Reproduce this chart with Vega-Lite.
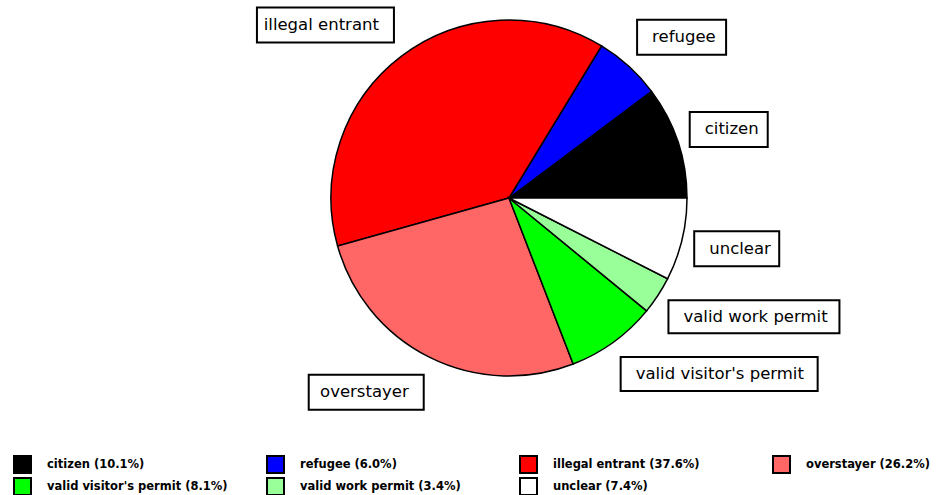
{
  "$schema": "https://vega.github.io/schema/vega-lite/v6.json",
  "width": 356,
  "height": 356,
  "autosize": {"type": "none"},
  "padding": {"left": 331, "top": 20, "right": 251, "bottom": 119},
  "background": "white",
  "config": {
    "view": {"stroke": null},
    "legend": {
      "orient": "none",
      "legendX": -318,
      "legendY": 435,
      "columns": 4,
      "direction": "horizontal",
      "symbolType": "square",
      "symbolSize": 289,
      "symbolStrokeColor": "black",
      "symbolStrokeWidth": 2,
      "symbolOpacity": 1,
      "labelFont": "DejaVu Sans",
      "labelFontWeight": "bold",
      "labelFontSize": 11.5,
      "labelColor": "black",
      "labelOffset": 15,
      "labelLimit": 300,
      "gridAlign": "all",
      "columnPadding": 35,
      "rowPadding": -4,
      "padding": 0
    }
  },
  "data": {
    "values": [
      {"ord": 1, "name": "citizen", "label": "citizen (10.1%)", "value": 10.1},
      {"ord": 2, "name": "refugee", "label": "refugee (6.0%)", "value": 6.0},
      {"ord": 3, "name": "illegal entrant", "label": "illegal entrant (37.6%)", "value": 37.6},
      {"ord": 4, "name": "overstayer", "label": "overstayer (26.2%)", "value": 26.2},
      {"ord": 5, "name": "valid visitor's permit", "label": "valid visitor's permit (8.1%)", "value": 8.1},
      {"ord": 6, "name": "valid work permit", "label": "valid work permit (3.4%)", "value": 3.4},
      {"ord": 7, "name": "unclear", "label": "unclear (7.4%)", "value": 7.4}
    ]
  },
  "transform": [
    {"window": [{"op": "sum", "field": "value", "as": "cum"}], "sort": [{"field": "ord"}], "frame": [null, 0]},
    {"joinaggregate": [{"op": "sum", "field": "value", "as": "total"}]},
    {"calculate": "2 * PI * (datum.cum - datum.value / 2) / datum.total", "as": "mid"},
    {"calculate": "1.07 * cos(datum.mid)", "as": "lx"},
    {"calculate": "1.22 * sin(datum.mid)", "as": "ly"}
  ],
  "layer": [
    {
      "mark": {"type": "arc", "stroke": "black", "strokeWidth": 1.5},
      "encoding": {
        "theta": {"field": "value", "type": "quantitative", "stack": true, "scale": {"range": [1.5708, -4.7124]}},
        "order": {"field": "ord", "type": "quantitative"},
        "color": {
          "field": "label",
          "type": "nominal",
          "title": null,
          "scale": {
            "domain": ["citizen (10.1%)", "refugee (6.0%)", "illegal entrant (37.6%)", "overstayer (26.2%)", "valid visitor's permit (8.1%)", "valid work permit (3.4%)", "unclear (7.4%)"],
            "range": ["#000000", "#0000ff", "#ff0000", "#ff6666", "#00ff00", "#99ff99", "#ffffff"]
          }
        }
      }
    },
    {
      "mark": {"type": "point", "filled": true, "fill": "white", "stroke": "black", "strokeWidth": 2, "opacity": 1, "size": 4},
      "encoding": {
        "x": {"field": "lx", "type": "quantitative", "scale": {"domain": [-1, 1], "nice": false, "zero": false}, "axis": null},
        "y": {"field": "ly", "type": "quantitative", "scale": {"domain": [-1, 1], "nice": false, "zero": false}, "axis": null},
        "shape": {
          "field": "name",
          "type": "nominal",
          "legend": null,
          "scale": {
            "domain": ["citizen", "refugee", "illegal entrant", "overstayer", "valid visitor's permit", "valid work permit", "unclear"],
            "range": ["M0,-17.5H78V17.5H0Z", "M0,-17.5H89V17.5H0Z", "M-137,-17.5H0V17.5H-137Z", "M-115,-17.5H0V17.5H-115Z", "M0,-17H197V17H0Z", "M0,-16.5H171V16.5H0Z", "M0,-17.5H85V17.5H0Z"]
          }
        }
      }
    },
    {
      "transform": [{"filter": "datum.lx > 0"}],
      "mark": {"type": "text", "font": "DejaVu Sans", "fontSize": 16.5, "color": "black", "align": "left", "baseline": "middle", "dx": 15},
      "encoding": {
        "x": {"field": "lx", "type": "quantitative"},
        "y": {"field": "ly", "type": "quantitative"},
        "text": {"field": "name", "type": "nominal"}
      }
    },
    {
      "transform": [{"filter": "datum.lx <= 0"}],
      "mark": {"type": "text", "font": "DejaVu Sans", "fontSize": 16.5, "color": "black", "align": "right", "baseline": "middle", "dx": -15},
      "encoding": {
        "x": {"field": "lx", "type": "quantitative"},
        "y": {"field": "ly", "type": "quantitative"},
        "text": {"field": "name", "type": "nominal"}
      }
    }
  ]
}
